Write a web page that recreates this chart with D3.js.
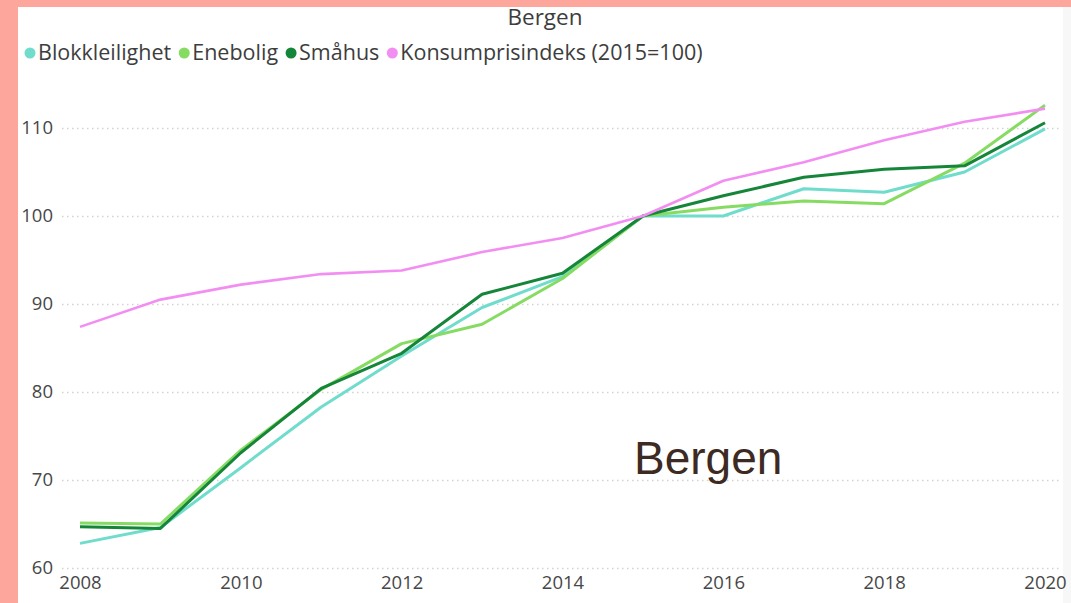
<!DOCTYPE html>
<html>
<head>
<meta charset="utf-8">
<script src="https://cdn.jsdelivr.net/npm/d3@7"></script>
<style>
  html, body { margin: 0; padding: 0; background: #fca69c; }
  svg { display: block; }
</style>
</head>
<body>
<svg id="chart" width="1071" height="603"></svg>
<script>
// values
const years = [2008, 2009, 2010, 2011, 2012, 2013, 2014, 2015, 2016, 2017, 2018, 2019, 2020];
const blokk = [62.8, 64.6, 71.4, 78.3, 84.1, 89.6, 93.1, 100, 100.0, 103.1, 102.7, 105.0, 109.9];
const enebolig = [65.1, 65.0, 73.4, 80.3, 85.5, 87.7, 92.9, 100, 101.0, 101.7, 101.4, 106.0, 112.6];
const smahus = [64.7, 64.5, 73.1, 80.4, 84.4, 91.1, 93.5, 100, 102.3, 104.4, 105.3, 105.7, 110.6];
const kpi = [87.4, 90.5, 92.2, 93.4, 93.8, 95.9, 97.5, 100, 104.0, 106.1, 108.6, 110.7, 112.2];
const seriesNames = ['Blokkleilighet', 'Enebolig', 'Småhus', 'Konsumprisindeks (2015=100)'];
const seriesColors = ['#6fdccc', '#86dc63', '#15853a', '#f28ef2'];
const yTicks = [60, 70, 80, 90, 100, 110];
const xTicks = [2008, 2010, 2012, 2014, 2016, 2018, 2020];

const svg = d3.select('#chart');

// white panel inside the salmon frame
svg.append('rect').attr('x', 18).attr('y', 7).attr('width', 1045).attr('height', 596).attr('fill', '#fff');
svg.append('rect').attr('x', 1063).attr('y', 7).attr('width', 8).attr('height', 596).attr('fill', '#f7f7f7');

const x = d3.scaleLinear().domain([2008, 2020]).range([80, 1045]);
const y = d3.scaleLinear().domain([60, 110]).range([568, 128]);

// y axis + dotted gridlines
const yAxis = svg.append('g')
    .attr('transform', 'translate(62,0)')
    .call(d3.axisLeft(y).tickValues(yTicks).tickSize(-1000).tickPadding(9));
yAxis.select('.domain').remove();
yAxis.selectAll('line')
    .attr('stroke', '#d2d2d2')
    .attr('stroke-width', 1.5)
    .attr('stroke-dasharray', '1.5,3.5');
yAxis.selectAll('text')
    .attr('font-family', 'Open Sans')
    .attr('font-size', 18.5)
    .attr('fill', '#474747');

// x axis
const xAxis = svg.append('g')
    .attr('transform', 'translate(0,572)')
    .call(d3.axisBottom(x).tickValues(xTicks).tickFormat(d3.format('d')).tickSize(0).tickPadding(4));
xAxis.select('.domain').remove();
xAxis.selectAll('text')
    .attr('font-family', 'Open Sans')
    .attr('font-size', 18.5)
    .attr('fill', '#474747');

// lines
const line = d3.line()
    .x((d, i) => x(years[i]))
    .y(d => y(d));

[blokk, enebolig, smahus, kpi].forEach((vals, i) => {
    svg.append('path')
        .attr('d', line(vals))
        .attr('fill', 'none')
        .attr('stroke', seriesColors[i])
        .attr('stroke-width', i == 3 ? 2.6 : 3)
        .attr('stroke-linejoin', 'round');
});

// title
svg.append('text')
    .attr('x', 545).attr('y', 25)
    .attr('text-anchor', 'middle')
    .attr('font-family', 'Open Sans')
    .attr('font-size', 22.5)
    .attr('fill', '#3d3d3d')
    .text('Bergen');

// legend, items placed one after another
const legend = svg.append('g');
let lx = 30;
seriesNames.forEach((name, i) => {
    legend.append('circle')
        .attr('cx', lx).attr('cy', 53).attr('r', 5.5)
        .attr('fill', seriesColors[i]);
    const t = legend.append('text')
        .attr('x', lx + 8).attr('y', 60)
        .attr('font-family', 'Open Sans')
        .attr('font-size', 21.5)
        .attr('fill', '#3d3d3d')
        .text(name);
    lx += 8 + t.node().getComputedTextLength() + 13;
});

// big annotation
svg.append('text')
    .attr('x', 634).attr('y', 474)
    .attr('font-family', 'Liberation Sans, Arial')
    .attr('font-size', 46)
    .attr('fill', '#3d2a22')
    .text('Bergen');
</script>
</body>
</html>
